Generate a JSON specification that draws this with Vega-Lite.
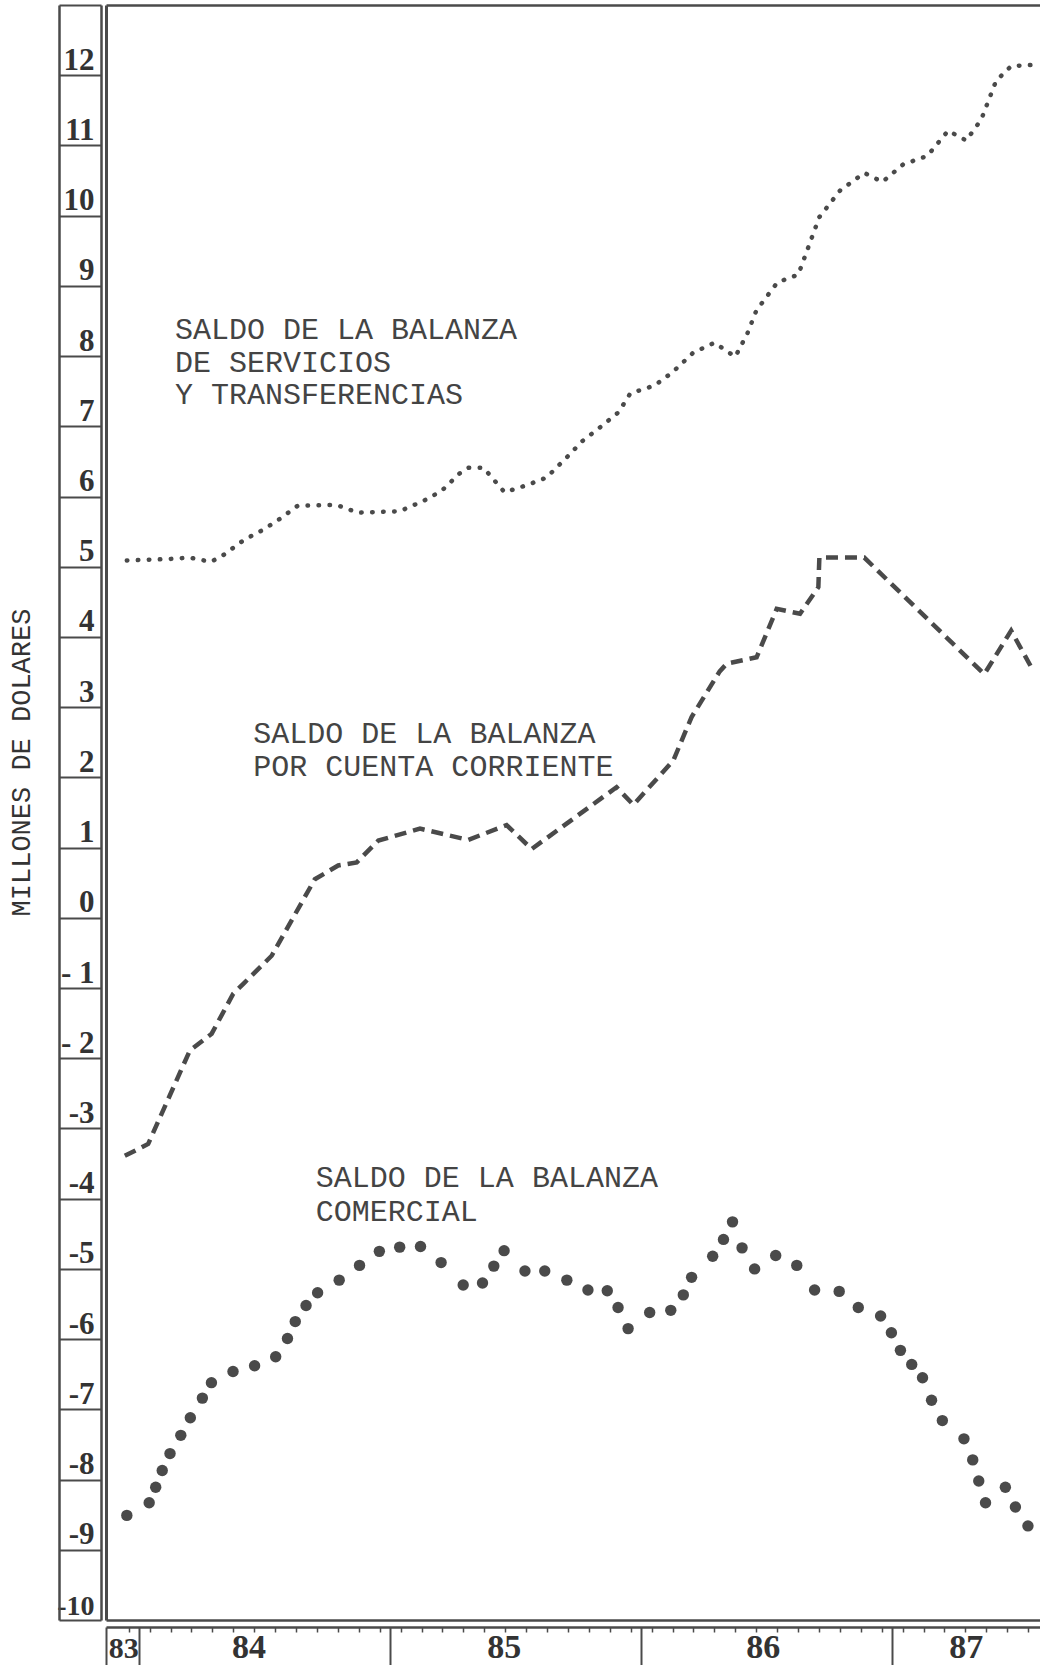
{
  "$schema": "https://vega.github.io/schema/vega-lite/v6.json",
  "width": 934,
  "height": 1615,
  "autosize": {"type": "none"},
  "padding": {"left": 106, "top": 5, "right": 0, "bottom": 45},
  "background": "white",
  "config": {
    "view": {"stroke": null},
    "axis": {"grid": false, "labelFlush": false, "labelOverlap": false, "labelBound": false, "domainColor": "#4a4a4a", "tickColor": "#4a4a4a", "labelColor": "#333333", "titleColor": "#333333"}
  },
  "resolve": {"axis": {"x": "independent", "y": "independent"}},
  "datasets": {
    "services": [
      {"t": 1983.951, "v": 5.09}, {"t": 1984.12, "v": 5.11}, {"t": 1984.202, "v": 5.13}, {"t": 1984.286, "v": 5.07},
      {"t": 1984.333, "v": 5.16}, {"t": 1984.417, "v": 5.38}, {"t": 1984.501, "v": 5.54}, {"t": 1984.56, "v": 5.68},
      {"t": 1984.632, "v": 5.87}, {"t": 1984.787, "v": 5.88}, {"t": 1984.871, "v": 5.77}, {"t": 1985.038, "v": 5.79},
      {"t": 1985.134, "v": 5.94}, {"t": 1985.205, "v": 6.08}, {"t": 1985.277, "v": 6.33}, {"t": 1985.313, "v": 6.41},
      {"t": 1985.372, "v": 6.41}, {"t": 1985.456, "v": 6.06}, {"t": 1985.551, "v": 6.17}, {"t": 1985.623, "v": 6.27},
      {"t": 1985.707, "v": 6.57}, {"t": 1985.766, "v": 6.79}, {"t": 1985.838, "v": 6.99}, {"t": 1985.91, "v": 7.2},
      {"t": 1985.957, "v": 7.47}, {"t": 1986.053, "v": 7.58}, {"t": 1986.125, "v": 7.77}, {"t": 1986.208, "v": 8.05},
      {"t": 1986.292, "v": 8.19}, {"t": 1986.375, "v": 7.99}, {"t": 1986.423, "v": 8.32}, {"t": 1986.459, "v": 8.65},
      {"t": 1986.543, "v": 9.05}, {"t": 1986.626, "v": 9.16}, {"t": 1986.674, "v": 9.63}, {"t": 1986.71, "v": 9.98},
      {"t": 1986.793, "v": 10.36}, {"t": 1986.889, "v": 10.61}, {"t": 1986.961, "v": 10.48}, {"t": 1987.044, "v": 10.73},
      {"t": 1987.14, "v": 10.85}, {"t": 1987.223, "v": 11.21}, {"t": 1987.295, "v": 11.07}, {"t": 1987.355, "v": 11.37},
      {"t": 1987.414, "v": 11.92}, {"t": 1987.474, "v": 12.13}, {"t": 1987.58, "v": 12.15}
    ],
    "current": [
      {"t": 1983.943, "v": -3.39}, {"t": 1984.036, "v": -3.22}, {"t": 1984.202, "v": -1.89}, {"t": 1984.289, "v": -1.65},
      {"t": 1984.375, "v": -1.08}, {"t": 1984.415, "v": -0.94}, {"t": 1984.528, "v": -0.54}, {"t": 1984.7, "v": 0.55},
      {"t": 1984.793, "v": 0.745}, {"t": 1984.867, "v": 0.79}, {"t": 1984.953, "v": 1.1}, {"t": 1985.119, "v": 1.27},
      {"t": 1985.311, "v": 1.11}, {"t": 1985.464, "v": 1.32}, {"t": 1985.564, "v": 0.98}, {"t": 1985.902, "v": 1.86},
      {"t": 1985.969, "v": 1.61}, {"t": 1986.128, "v": 2.24}, {"t": 1986.201, "v": 2.86}, {"t": 1986.313, "v": 3.51},
      {"t": 1986.341, "v": 3.62}, {"t": 1986.46, "v": 3.71}, {"t": 1986.54, "v": 4.4}, {"t": 1986.633, "v": 4.33},
      {"t": 1986.706, "v": 4.71}, {"t": 1986.71, "v": 5.13}, {"t": 1986.889, "v": 5.13}, {"t": 1987.367, "v": 3.47},
      {"t": 1987.474, "v": 4.09}, {"t": 1987.551, "v": 3.59}
    ],
    "trade": [
      {"t": 1983.951, "v": -8.51}, {"t": 1984.04, "v": -8.33}, {"t": 1984.066, "v": -8.11}, {"t": 1984.092, "v": -7.87},
      {"t": 1984.123, "v": -7.63}, {"t": 1984.166, "v": -7.37}, {"t": 1984.204, "v": -7.12}, {"t": 1984.252, "v": -6.84},
      {"t": 1984.288, "v": -6.62}, {"t": 1984.374, "v": -6.46}, {"t": 1984.46, "v": -6.38}, {"t": 1984.544, "v": -6.25},
      {"t": 1984.591, "v": -5.99}, {"t": 1984.622, "v": -5.75}, {"t": 1984.665, "v": -5.52}, {"t": 1984.711, "v": -5.34},
      {"t": 1984.797, "v": -5.16}, {"t": 1984.878, "v": -4.95}, {"t": 1984.957, "v": -4.75}, {"t": 1985.038, "v": -4.69},
      {"t": 1985.121, "v": -4.68}, {"t": 1985.203, "v": -4.91}, {"t": 1985.291, "v": -5.23}, {"t": 1985.368, "v": -5.2},
      {"t": 1985.413, "v": -4.96}, {"t": 1985.454, "v": -4.74}, {"t": 1985.537, "v": -5.03}, {"t": 1985.616, "v": -5.03},
      {"t": 1985.704, "v": -5.16}, {"t": 1985.788, "v": -5.3}, {"t": 1985.865, "v": -5.31}, {"t": 1985.908, "v": -5.55},
      {"t": 1985.948, "v": -5.85}, {"t": 1986.034, "v": -5.62}, {"t": 1986.118, "v": -5.59}, {"t": 1986.168, "v": -5.37},
      {"t": 1986.201, "v": -5.12}, {"t": 1986.285, "v": -4.82}, {"t": 1986.328, "v": -4.58}, {"t": 1986.364, "v": -4.33},
      {"t": 1986.402, "v": -4.7}, {"t": 1986.452, "v": -5.0}, {"t": 1986.536, "v": -4.81}, {"t": 1986.62, "v": -4.95},
      {"t": 1986.691, "v": -5.3}, {"t": 1986.789, "v": -5.32}, {"t": 1986.865, "v": -5.55}, {"t": 1986.954, "v": -5.67},
      {"t": 1986.997, "v": -5.91}, {"t": 1987.033, "v": -6.16}, {"t": 1987.078, "v": -6.36}, {"t": 1987.121, "v": -6.55},
      {"t": 1987.157, "v": -6.87}, {"t": 1987.2, "v": -7.16}, {"t": 1987.286, "v": -7.42}, {"t": 1987.321, "v": -7.72},
      {"t": 1987.345, "v": -8.02}, {"t": 1987.372, "v": -8.33}, {"t": 1987.451, "v": -8.11}, {"t": 1987.491, "v": -8.39},
      {"t": 1987.541, "v": -8.66}
    ]
  },
  "layer": [
    {
      "data": {"name": "services"},
      "mark": {"type": "line", "color": "#4a4a4a", "strokeWidth": 4.5, "strokeDash": [0.5, 10.5], "strokeCap": "round"},
      "encoding": {
        "x": {"field": "t", "type": "quantitative", "scale": {"domain": [1983.868, 1987.589], "nice": false, "zero": false},
          "axis": {"orient": "bottom", "offset": 7, "domain": true, "domainWidth": 2.5, "labels": false, "ticks": true, "tickSize": 5, "tickWidth": 1.5, "title": null,
            "values": [1983.9583, 1984.0417, 1984.125, 1984.2083, 1984.2917, 1984.375, 1984.4583, 1984.5417, 1984.625, 1984.7083, 1984.7917, 1984.875, 1984.9583,
              1985.0417, 1985.125, 1985.2083, 1985.2917, 1985.375, 1985.4583, 1985.5417, 1985.625, 1985.7083, 1985.7917, 1985.875, 1985.9583,
              1986.0417, 1986.125, 1986.2083, 1986.2917, 1986.375, 1986.4583, 1986.5417, 1986.625, 1986.7083, 1986.7917, 1986.875, 1986.9583,
              1987.0417, 1987.125, 1987.2083, 1987.2917, 1987.375, 1987.4583, 1987.5417]}},
        "y": {"field": "v", "type": "quantitative", "scale": {"domain": [-10, 13], "nice": false, "zero": false},
          "axis": {"orient": "left", "offset": 5, "domain": true, "domainWidth": 2.5, "ticks": true, "tickSize": 42, "tickWidth": 2, "title": null,
            "values": [-10, -9, -8, -7, -6, -5, -4, -3, -2, -1, 0, 1, 2, 3, 4, 5, 6, 7, 8, 9, 10, 11, 12, 13],
            "labelExpr": "datum.value == 13 ? '' : datum.value == -1 ? '- 1' : datum.value == -2 ? '- 2' : toString(datum.value)",
            "labelFont": "Liberation Serif", "labelFontWeight": "bold",
            "labelFontSize": {"condition": {"test": "datum.value == -10", "value": 28}, "value": 31},
            "labelAlign": "right", "labelBaseline": "alphabetic",
            "labelPadding": -35, "labelOffset": -6}}
      }
    },
    {
      "data": {"name": "current"},
      "mark": {"type": "line", "color": "#4a4a4a", "strokeWidth": 4.5, "strokeDash": [12, 7]},
      "encoding": {
        "x": {"field": "t", "type": "quantitative", "scale": {"domain": [1983.868, 1987.589], "nice": false, "zero": false},
          "axis": {"orient": "bottom", "offset": 7, "domain": false, "labels": false, "ticks": true, "tickSize": 45, "tickWidth": 2, "title": null,
            "values": [1983.869, 1984, 1985, 1986, 1987]}},
        "y": {"field": "v", "type": "quantitative", "scale": {"domain": [-10, 13], "nice": false, "zero": false},
          "axis": {"orient": "left", "offset": 47, "domain": true, "domainWidth": 2.5, "ticks": false, "labels": false,
            "title": "MILLONES DE DOLARES", "titleFont": "Liberation Mono", "titleFontWeight": "normal", "titleFontSize": 27,
            "titleBaseline": "alphabetic", "titlePadding": 30, "titleY": 757}}
      }
    },
    {
      "data": {"name": "trade"},
      "mark": {"type": "circle", "size": 130, "color": "#4a4a4a", "opacity": 1},
      "encoding": {
        "x": {"field": "t", "type": "quantitative", "scale": {"domain": [1983.868, 1987.589], "nice": false, "zero": false},
          "axis": {"orient": "bottom", "offset": 7, "domain": false, "ticks": false, "title": null,
            "values": [1983.937, 1984.436, 1985.453, 1986.484, 1987.293],
            "labelExpr": "toString(floor(datum.value) - 1900)",
            "labelFont": "Liberation Serif", "labelFontWeight": "bold",
            "labelFontSize": {"condition": {"test": "datum.value < 1984", "value": 30}, "value": 34},
            "labelAlign": "center", "labelBaseline": "alphabetic", "labelPadding": 30}},
        "y": {"field": "v", "type": "quantitative", "scale": {"domain": [-10, 13], "nice": false, "zero": false},
          "axis": {"orient": "left", "offset": 0, "domain": true, "domainWidth": 3, "ticks": false, "labels": false, "title": null}}
      }
    },
    {
      "mark": {"type": "rule", "color": "#4a4a4a", "strokeWidth": 2.5},
      "encoding": {
        "y": {"datum": 0, "type": "quantitative", "scale": {"domain": [-10, 13], "nice": false, "zero": false}, "axis": null}
      }
    },
    {
      "data": {"values": [{"t": 1984.143, "v": 8.24, "label": "SALDO DE LA BALANZA\nDE SERVICIOS\nY TRANSFERENCIAS"}]},
      "mark": {"type": "text", "font": "Liberation Mono", "fontSize": 30, "color": "#444444", "align": "left", "baseline": "alphabetic", "lineBreak": "\n", "lineHeight": 32.5},
      "encoding": {
        "x": {"field": "t", "type": "quantitative", "scale": {"domain": [1983.868, 1987.589], "nice": false, "zero": false},
          "axis": {"orient": "bottom", "offset": 0, "domain": true, "domainWidth": 2.5, "ticks": false, "labels": false, "title": null}},
        "y": {"field": "v", "type": "quantitative", "scale": {"domain": [-10, 13], "nice": false, "zero": false}, "axis": null},
        "text": {"field": "label"}
      }
    },
    {
      "data": {"values": [{"t": 1984.455, "v": 2.49, "label": "SALDO DE LA BALANZA\nPOR CUENTA CORRIENTE"}]},
      "mark": {"type": "text", "font": "Liberation Mono", "fontSize": 30, "color": "#444444", "align": "left", "baseline": "alphabetic", "lineBreak": "\n", "lineHeight": 33.5},
      "encoding": {
        "x": {"field": "t", "type": "quantitative", "scale": {"domain": [1983.868, 1987.589], "nice": false, "zero": false},
          "axis": {"orient": "top", "offset": 0, "domain": true, "domainWidth": 2.5, "ticks": false, "labels": false, "title": null}},
        "y": {"field": "v", "type": "quantitative", "scale": {"domain": [-10, 13], "nice": false, "zero": false}, "axis": null},
        "text": {"field": "label"}
      }
    },
    {
      "data": {"values": [{"t": 1984.704, "v": -3.835, "label": "SALDO DE LA BALANZA\nCOMERCIAL"}]},
      "mark": {"type": "text", "font": "Liberation Mono", "fontSize": 30, "color": "#444444", "align": "left", "baseline": "alphabetic", "lineBreak": "\n", "lineHeight": 33.5},
      "encoding": {
        "x": {"field": "t", "type": "quantitative", "scale": {"domain": [1983.868, 1987.589], "nice": false, "zero": false}, "axis": null},
        "y": {"field": "v", "type": "quantitative", "scale": {"domain": [-10, 13], "nice": false, "zero": false}, "axis": null},
        "text": {"field": "label"}
      }
    }
  ]
}
